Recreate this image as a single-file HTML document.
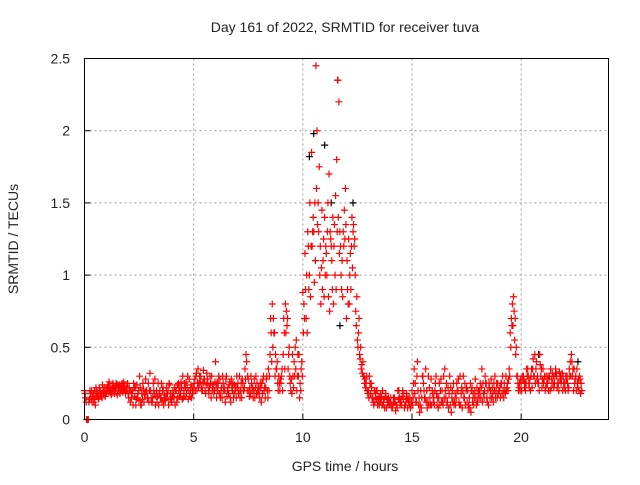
<!DOCTYPE html>
<html><head><meta charset="utf-8"><style>
body{margin:0;background:#fff;}
svg text{font-family:"Liberation Sans",sans-serif;font-size:14px;fill:#222;}
</style></head><body>
<svg id="chart" width="640" height="480">
<rect width="640" height="480" fill="#fff"/>
<text x="345" y="32" text-anchor="middle">Day 161 of 2022, SRMTID for receiver tuva</text>
<text x="345" y="471" text-anchor="middle">GPS time / hours</text>
<text transform="translate(18,239) rotate(-90)" text-anchor="middle">SRMTID / TECUs</text>
<g id="grid"></g><g id="ticks"></g><g id="marks"></g>
<rect x="84.5" y="58.5" width="524" height="361" fill="none" stroke="#000"/>
</svg>
<script>
const xTicks=[0,5,10,15,20];
const yTicks=[0,0.5,1,1.5,2,2.5];
const yTickLabels=["0","0.5","1","1.5","2","2.5"];
const redA=[0.2,0.0,0.12,0.15,0.18,0.1,0.17,0.2,0.15,0.22,
0.18,0.23,0.2,0.25,0.22,0.17,0.24,0.21,0.26,0.2,
0.18,0.12,0.2,0.16,0.24,0.13,0.1,0.21,0.28,0.15,
0.32,0.12,0.18,0.2,0.1,0.15,0.22,0.13,0.18,0.24,
0.12,0.15,0.2,0.25,0.18,0.3,0.16,0.22,0.28,0.15,
0.22,0.3,0.35,0.26,0.2,0.28,0.32,0.18,0.15,0.24,
0.4,0.2,0.28,0.15,0.22,0.3,0.18,0.12,0.25,0.2,
0.22,0.3,0.15,0.2,0.45,0.28,0.18,0.22,0.15,0.25,
0.2,0.12,0.3,0.22,0.15,0.45,0.8,0.6,0.35,0.3,
0.25,0.45,0.8,0.7,0.3,0.18,0.4,0.55,0.3,0.2,
0.88,1.15,0.6,1.0,1.85,1.3,2.45,1.5,1.2,0.9,
1.4,1.0,1.7,1.2,0.8,1.55,2.35,1.3,1.1,1.45,
0.7,1.25,0.9,1.3,1.0,0.55,0.45,0.38,0.3,0.25,
0.2,0.18,0.15,0.12,0.2,0.1,0.15,0.12,0.18,0.1,
0.12,0.08,0.15,0.1,0.2,0.12,0.14,0.1,0.08,0.15,
0.2,0.35,0.12,0.1,0.2,0.3,0.15,0.08,0.22,0.1,
0.15,0.3,0.08,0.2,0.12,0.35,0.1,0.18,0.05,0.25,
0.1,0.2,0.3,0.08,0.15,0.22,0.1,0.05,0.18,0.28,
0.12,0.2,0.35,0.15,0.25,0.1,0.2,0.18,0.3,0.15,
0.2,0.25,0.15,0.3,0.2,0.6,0.8,0.55,0.3,0.22,
0.25,0.3,0.2,0.35,0.28,0.22,0.3,0.4,0.25,0.3,
0.35,0.2,0.25,0.3,0.28,0.22,0.32,0.25,0.3,0.2,
0.25,0.3,0.35,0.45,0.2,0.3,0.22,0.28];
const redB=[0.15,0.0,0.2,0.12,0.2,0.16,0.14,0.18,0.2,0.16,
0.22,0.2,0.18,0.21,0.25,0.2,0.22,0.19,0.23,0.2,
0.22,0.15,0.25,0.1,0.18,0.22,0.14,0.17,0.2,0.12,
0.15,0.25,0.1,0.16,0.2,0.12,0.17,0.22,0.1,0.18,
0.2,0.1,0.24,0.16,0.22,0.2,0.26,0.14,0.2,0.18,
0.28,0.2,0.25,0.22,0.34,0.18,0.25,0.3,0.2,0.2,
0.15,0.3,0.2,0.25,0.12,0.2,0.26,0.22,0.18,0.15,
0.18,0.2,0.25,0.35,0.2,0.16,0.25,0.2,0.3,0.18,
0.25,0.18,0.22,0.3,0.2,0.6,0.7,0.45,0.25,0.2,
0.35,0.6,0.75,0.45,0.2,0.3,0.5,0.3,0.15,0.4,
0.8,0.7,1.2,0.85,1.3,1.5,2.0,1.75,1.05,1.25,
1.2,1.5,1.3,0.9,1.35,1.8,2.2,1.0,1.3,1.6,
0.9,1.0,1.4,1.2,0.65,0.6,0.5,0.4,0.28,0.2,
0.3,0.22,0.1,0.2,0.15,0.12,0.2,0.08,0.14,0.12,
0.1,0.15,0.06,0.2,0.1,0.16,0.08,0.18,0.12,0.1,
0.15,0.25,0.4,0.05,0.15,0.2,0.12,0.3,0.1,0.18,
0.2,0.1,0.25,0.12,0.3,0.15,0.22,0.1,0.2,0.12,
0.25,0.12,0.18,0.3,0.1,0.2,0.08,0.22,0.15,0.1,
0.2,0.15,0.25,0.3,0.12,0.22,0.15,0.25,0.2,0.18,
0.15,0.3,0.2,0.22,0.35,0.7,0.85,0.45,0.25,0.2,
0.3,0.22,0.35,0.25,0.3,0.42,0.25,0.3,0.45,0.22,
0.28,0.3,0.2,0.35,0.25,0.3,0.22,0.33,0.28,0.25,
0.3,0.2,0.4,0.3,0.25,0.35,0.2,0.25];
const redC=[0.18,0.0,0.14,0.2,0.12,0.22,0.15,0.19,0.24,0.18,
0.2,0.26,0.17,0.22,0.2,0.24,0.18,0.25,0.2,0.22,
0.15,0.2,0.1,0.22,0.15,0.3,0.18,0.12,0.2,0.25,
0.2,0.15,0.28,0.12,0.18,0.25,0.1,0.15,0.2,0.14,
0.16,0.22,0.12,0.2,0.26,0.15,0.22,0.3,0.16,0.22,
0.25,0.32,0.22,0.3,0.25,0.2,0.28,0.22,0.3,0.18,
0.22,0.25,0.15,0.3,0.2,0.16,0.24,0.28,0.15,0.22,
0.25,0.15,0.28,0.22,0.4,0.2,0.3,0.15,0.22,0.2,
0.15,0.25,0.2,0.28,0.35,0.7,0.5,0.3,0.4,0.25,
0.3,0.7,0.6,0.35,0.25,0.45,0.3,0.2,0.45,0.35,
0.6,0.9,1.3,1.5,1.2,0.95,1.6,1.3,0.8,1.1,
1.0,1.3,0.75,1.1,1.2,0.9,1.4,1.2,0.85,1.25,
1.1,0.8,1.2,1.35,0.75,0.5,0.42,0.32,0.25,0.3,
0.15,0.25,0.12,0.18,0.1,0.16,0.1,0.14,0.08,0.15,
0.15,0.1,0.12,0.08,0.15,0.1,0.18,0.12,0.15,0.08,
0.1,0.18,0.3,0.15,0.08,0.25,0.35,0.12,0.15,0.2,
0.1,0.18,0.15,0.28,0.1,0.2,0.12,0.3,0.15,0.1,
0.15,0.28,0.1,0.2,0.25,0.12,0.15,0.2,0.1,0.15,
0.18,0.25,0.12,0.2,0.15,0.25,0.28,0.12,0.15,0.25,
0.22,0.18,0.25,0.2,0.28,0.5,0.65,0.7,0.3,0.25,
0.2,0.28,0.25,0.3,0.2,0.35,0.45,0.28,0.2,0.35,
0.25,0.22,0.3,0.2,0.32,0.25,0.3,0.2,0.25,0.3,
0.2,0.25,0.3,0.4,0.35,0.2,0.28,0.18];
const redD=[0.12,0.0,0.18,0.16,0.14,0.19,0.22,0.16,0.18,0.2,
0.24,0.19,0.22,0.18,0.24,0.22,0.2,0.23,0.18,0.25,
0.2,0.18,0.22,0.14,0.2,0.1,0.25,0.18,0.15,0.2,
0.12,0.2,0.16,0.25,0.15,0.2,0.14,0.18,0.25,0.12,
0.18,0.2,0.15,0.22,0.14,0.25,0.18,0.2,0.24,0.2,
0.2,0.25,0.3,0.2,0.28,0.24,0.2,0.25,0.22,0.26,
0.25,0.18,0.22,0.2,0.28,0.22,0.15,0.2,0.24,0.3,
0.2,0.25,0.2,0.28,0.3,0.22,0.2,0.28,0.18,0.22,
0.22,0.28,0.15,0.2,0.3,0.4,0.6,0.35,0.2,0.28,
0.2,0.35,0.65,0.5,0.28,0.22,0.35,0.45,0.25,0.3,
0.7,1.0,0.9,1.2,1.4,1.1,1.35,1.0,1.45,0.85,
1.15,0.85,1.25,1.4,1.0,1.3,1.15,0.9,1.2,1.35,
0.8,1.15,1.05,1.25,0.85,0.7,0.35,0.3,0.22,0.18,
0.25,0.15,0.2,0.14,0.12,0.18,0.1,0.16,0.12,0.1,
0.08,0.12,0.1,0.14,0.12,0.2,0.1,0.14,0.1,0.12,
0.25,0.12,0.2,0.1,0.3,0.15,0.2,0.1,0.28,0.12,
0.25,0.15,0.1,0.2,0.15,0.25,0.08,0.22,0.12,0.18,
0.2,0.1,0.22,0.15,0.2,0.08,0.25,0.12,0.2,0.22,
0.15,0.22,0.18,0.25,0.2,0.15,0.22,0.2,0.25,0.2,
0.25,0.2,0.18,0.25,0.3,0.65,0.75,0.5,0.2,0.28,
0.28,0.25,0.3,0.22,0.35,0.3,0.35,0.25,0.38,0.28,
0.3,0.25,0.28,0.22,0.3,0.35,0.25,0.28,0.32,0.22,
0.28,0.22,0.3,0.35,0.28,0.25,0.3,0.2];
const blackT=[10.5,10.3,11.6,11.0,11.3,11.7,12.3,22.6,8.7,20.8];
const blackV=[1.98,1.82,2.35,1.9,1.5,0.65,1.5,0.4,0.6,0.45];
const NS="http://www.w3.org/2000/svg";
const X=t=>84.5+t*(524/24);
const Y=v=>419.5-v*(361/2.5);
const grid=document.getElementById('grid'),ticks=document.getElementById('ticks'),marks=document.getElementById('marks');
function mk(tag,attrs,parent){const e=document.createElementNS(NS,tag);for(const k in attrs)e.setAttribute(k,attrs[k]);parent.appendChild(e);return e;}
xTicks.forEach(t=>{
  if(t>0){const g=mk('line',{x1:X(t),x2:X(t),y1:58.5,y2:419.5,stroke:'#999','stroke-dasharray':'2,3'},grid);
  
  }
  const tk=mk('line',{x1:X(t),x2:X(t),y1:419.5,y2:413.5,stroke:'#000'},ticks);
  
  
  const tx=mk('text',{x:X(t),y:442,'text-anchor':'middle'},ticks);tx.textContent=t;
  
  
});
yTicks.forEach((v,i)=>{
  if(v>0&&v<2.5){const g=mk('line',{x1:84.5,x2:608.5,y1:Y(v),y2:Y(v),stroke:'#999','stroke-dasharray':'2,3'},grid);
  
  }
  const tk=mk('line',{x1:84.5,x2:90.5,y1:Y(v),y2:Y(v),stroke:'#000'},ticks);
  
  
  const tx=mk('text',{x:70,y:Y(v)+5,'text-anchor':'end'},ticks);tx.textContent=yTickLabels[i];
  
  
});
function plus(t,v,color,name){
  const x=X(t),y=Y(v);
  const p=mk('path',{d:`M${x-3.5},${y}H${x+3.5}M${x},${y-3.5}V${y+3.5}`,stroke:color,'stroke-width':1.2,fill:'none'},marks);
  
  
}
blackT.forEach((t,i)=>plus(t,blackV[i],'#000','black-point'));
redA.forEach((v,i)=>plus(i*0.1,v,'#f00','red-point'));
redB.forEach((v,i)=>plus(i*0.1+0.05,v,'#f00','red-point'));
redC.forEach((v,i)=>plus(i*0.1+0.025,v,'#f00','red-point'));
redD.forEach((v,i)=>plus(i*0.1+0.075,v,'#f00','red-point'));
</script>
</body></html>
